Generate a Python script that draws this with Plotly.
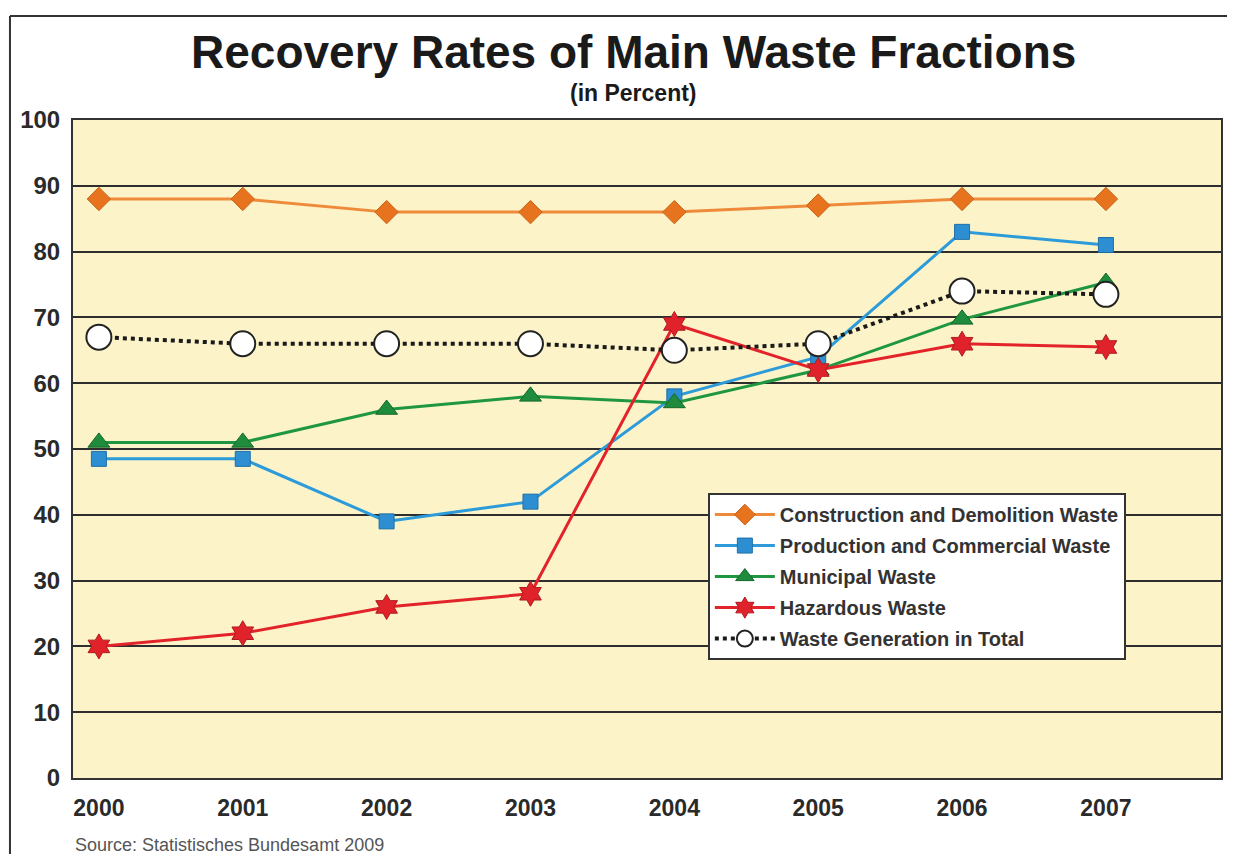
import plotly.graph_objects as go

years = [2000, 2001, 2002, 2003, 2004, 2005, 2006, 2007]
construction = [88, 88, 86, 86, 86, 87, 88, 88]
production = [48.5, 48.5, 39, 42, 58, 64, 83, 81]
municipal = [51, 51, 56, 58, 57, 62, 69.7, 75.3]
hazardous = [20, 22, 26, 28, 69, 62, 66, 65.5]
total = [67, 66, 66, 66, 65, 66, 74, 73.5]

FONT = "Liberation Sans, Arial, sans-serif"

fig = go.Figure()

fig.add_trace(go.Scatter(
    x=years, y=construction, name="Construction and Demolition Waste", legendgroup="a",
    mode="lines+markers",
    line=dict(color="#EE8A3A", width=3),
    marker=dict(symbol="diamond", size=18, color="#E8731E", line=dict(color="#C8641A", width=1)),
))
fig.add_trace(go.Scatter(
    x=years, y=production, name="Production and Commercial Waste", legendgroup="b",
    mode="lines+markers",
    line=dict(color="#2D9BDA", width=3),
    marker=dict(symbol="square", size=15, color="#2D8FD2", line=dict(color="#1E6FA8", width=1)),
))
fig.add_trace(go.Scatter(
    x=years, y=municipal, name="Municipal Waste", legendgroup="c",
    mode="lines+markers",
    line=dict(color="#1F9642", width=3),
    marker=dict(symbol="triangle-up", size=19, color="#1E8C3C", line=dict(color="#15672C", width=1)),
))
fig.add_trace(go.Scatter(
    x=years, y=hazardous, name="Hazardous Waste", legendgroup="d",
    mode="lines+markers",
    line=dict(color="#E3232A", width=3),
    marker=dict(symbol="hexagram", size=19, color="#E0222A", line=dict(color="#B01A20", width=1)),
))
fig.add_trace(go.Scatter(
    x=years, y=total, name="Waste Generation in Total", legendgroup="e",
    mode="lines+markers",
    line=dict(color="#1A1A1A", width=4, dash="dot"),
    marker=dict(symbol="circle", size=25, color="white", line=dict(color="#222222", width=2)),
))

fig.update_layout(
    width=1227, height=846,
    margin=dict(l=65, r=14, t=112, b=76),
    paper_bgcolor="white",
    plot_bgcolor="#FCF4C8",
    font=dict(family=FONT, color="#222222"),
    showlegend=True,
    legend=dict(
        x=0.553, y=0.433, xanchor="left", yanchor="top",
        bgcolor="white", bordercolor="#333333", borderwidth=2,
        font=dict(family=FONT, size=20, color="#333333", weight="bold"),
        itemwidth=60, tracegroupgap=2,
    ),
    xaxis=dict(
        range=[1999.82, 2007.8], tickmode="array", tickvals=years,
        ticktext=[str(y) for y in years],
        showgrid=False, zeroline=False,
        showline=True, linecolor="#333333", linewidth=2, mirror=True,
        ticks="", ticklabelstandoff=8,
        tickfont=dict(family=FONT, size=23, color="#2A2A2A", weight="bold"),
    ),
    yaxis=dict(
        range=[0, 100], tickmode="array", tickvals=list(range(0, 101, 10)),
        showgrid=True, gridcolor="#2E2E2E", gridwidth=2, zeroline=False,
        showline=True, linecolor="#333333", linewidth=2, mirror=True,
        ticks="", ticklabelstandoff=6,
        tickfont=dict(family=FONT, size=24, color="#2A2A2A", weight="bold"),
    ),
    annotations=[
        dict(text="<b>Recovery Rates of Main Waste Fractions</b>", xref="paper", yref="paper",
             x=0.488, y=1.103, xanchor="center", yanchor="middle", showarrow=False,
             font=dict(family=FONT, size=46, color="#1A1A1A")),
        dict(text="<b>(in Percent)</b>", xref="paper", yref="paper",
             x=0.488, y=1.041, xanchor="center", yanchor="middle", showarrow=False,
             font=dict(family=FONT, size=23, color="#1A1A1A")),
        dict(text="Source: Statistisches Bundesamt 2009", xref="paper", yref="paper",
             x=0.0, y=-0.102, xanchor="left", yanchor="middle", showarrow=False,
             font=dict(family=FONT, size=18, color="#555555")),
    ],
    shapes=[
        dict(type="line", xref="paper", yref="paper", x0=-0.0549, x1=-0.0549, y0=-0.3, y1=1.158,
             line=dict(color="#333333", width=2)),
        dict(type="line", xref="paper", yref="paper", x0=-0.0549, x1=1.2, y0=1.158, y1=1.158,
             line=dict(color="#333333", width=2)),
    ],
)

fig.write_html("out.html")
